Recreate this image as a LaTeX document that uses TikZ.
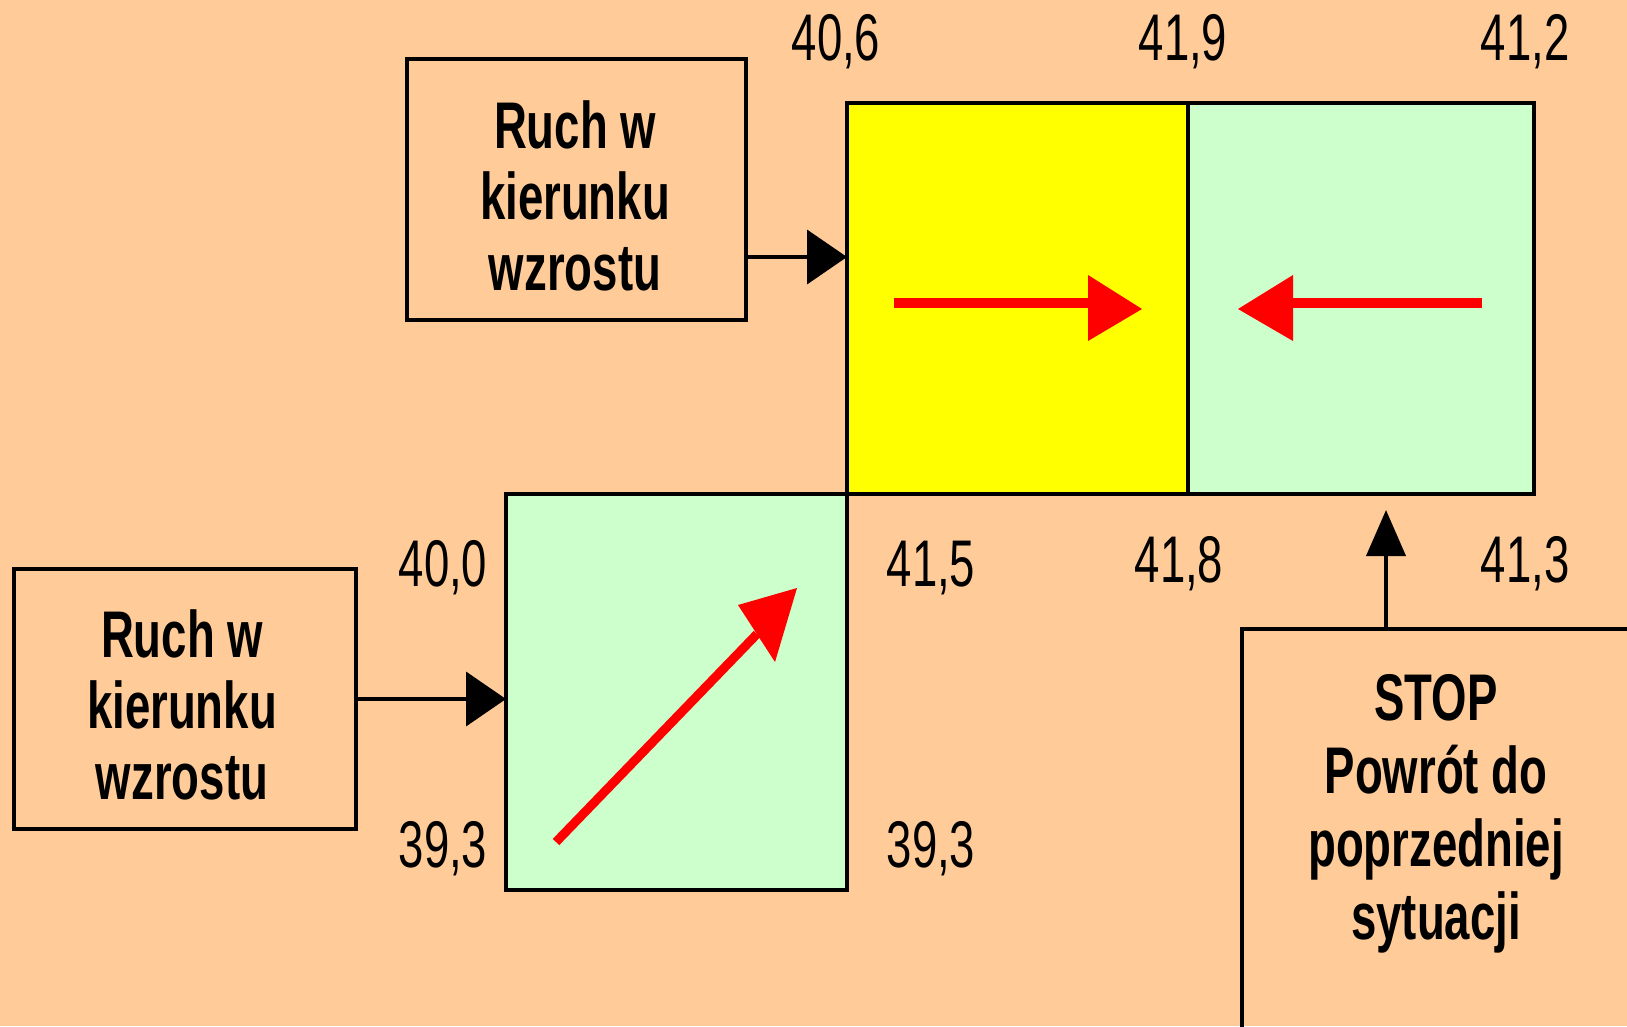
\documentclass[tikz,border=0pt]{standalone}
\usepackage{fontspec}
\newfontfamily\narrowfont{Liberation Sans}[FakeStretch=0.69]
\usetikzlibrary{arrows.meta}
\definecolor{peach}{HTML}{FFCC99}
\definecolor{lgreen}{HTML}{CCFFCC}
\definecolor{yel}{HTML}{FFFF00}
\begin{document}
\begin{tikzpicture}[x=1pt,y=-1pt,
  box/.style={draw, line width=4pt, inner sep=0pt, outer sep=0pt, rectangle},
  boxtext/.style={font=\narrowfont\bfseries\fontsize{66}{71}\selectfont, align=center, inner sep=0pt},
  num/.style={font=\narrowfont\fontsize{66}{71}\selectfont, inner sep=0pt, anchor=base},
  conn/.style={line width=4pt, -{Triangle[length=40pt,width=54pt]}},
  upconn/.style={line width=4pt, -{Triangle[length=46pt,width=39pt]}},
  redline/.style={red, line width=10pt},
  redhead/.style={fill=red, draw=none}]
\fill[peach] (0,0) rectangle (1627,1026);
\useasboundingbox (0,0) rectangle (1627,1026);

% boxes
\node[box, minimum width=339pt, minimum height=261pt] (box1) at (576.5,189.5) {};
\node[box, fill=yel, minimum width=341pt, minimum height=391pt] (yel) at (1017.5,298.5) {};
\node[box, fill=lgreen, minimum width=346pt, minimum height=391pt] (grR) at (1361,298.5) {};
\node[box, fill=lgreen, minimum width=341pt, minimum height=396pt] (lg) at (676.5,692) {};
\node[box, minimum width=342pt, minimum height=260pt] (box2) at (185,699) {};
\node[box, minimum width=408pt, minimum height=491pt] (stop) at (1446,874.5) {};

% helper coordinates
\coordinate (a1) at (0,257);
\coordinate (ax) at (1386,0);

% connectors
\draw[conn] (box1.east |- a1) -- (yel.west |- a1);
\draw[conn] (box2.east) -- (lg.west |- box2.east);
\draw[upconn, shorten >=16pt] (stop.north -| ax) -- (grR.south -| ax);

% red arrows
\draw[redline] (894,302.5) -- (1090,302.5);
\fill[redhead] (1088,275) -- (1142,309) -- (1088,341) -- cycle;
\draw[redline] (1482,302.5) -- (1291,302.5);
\fill[redhead] (1293,275) -- (1238,309) -- (1293,341) -- cycle;
\draw[red, line width=9pt] (556,842) -- (757,634);
\fill[redhead] (797,588) -- (738,605) -- (775,662) -- cycle;

% box texts
\node[boxtext] (t1) at (575,195.5) {Ruch w\\kierunku\\wzrostu};
\node[boxtext] (t2) at (182,705) {Ruch w\\kierunku\\wzrostu};
\node[boxtext, font=\narrowfont\bfseries\fontsize{66}{73}\selectfont] (t3) at (1436,814) {STOP\\Powrót do\\poprzedniej\\sytuacji};

% numbers
\node[num] (n1) at (836,60) {40,6};
\node[num] (n2) at (1183,60) {41,9};
\node[num] (n3) at (1525,60) {41,2};
\node[num] (n4) at (443,586) {40,0};
\node[num] (n5) at (931,586) {41,5};
\node[num] (n6) at (1179,582) {41,8};
\node[num] (n7) at (1525,582) {41,3};
\node[num] (n8) at (443,867) {39,3};
\node[num] (n9) at (931,867) {39,3};
\end{tikzpicture}
\end{document}
